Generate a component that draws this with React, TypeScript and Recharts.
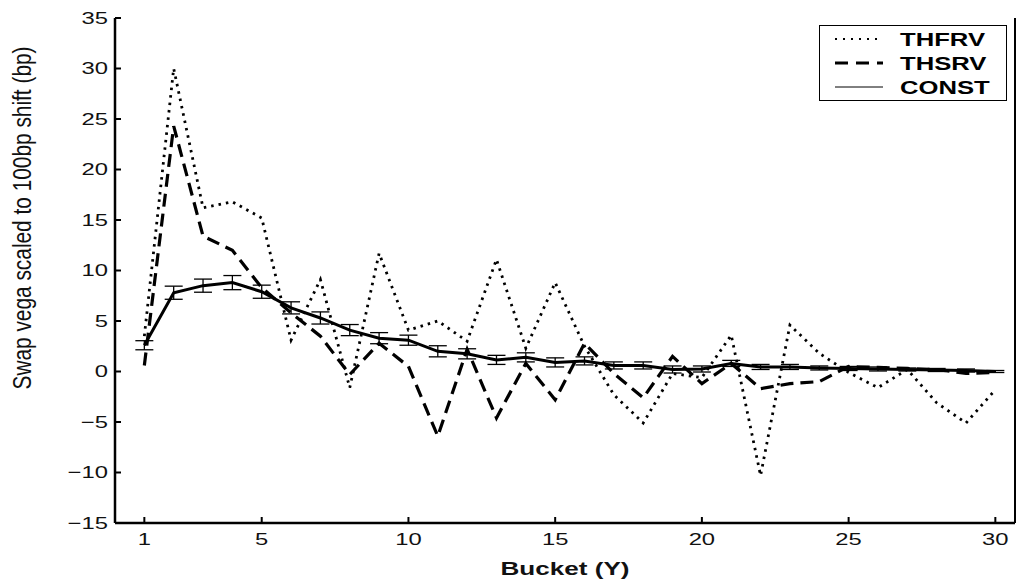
import React from "react";
import {
  LineChart,
  Line,
  XAxis,
  YAxis,
  ErrorBar,
  Legend,
  Label,
} from "recharts";

// buckets (years) and vega values
const buckets = [
  1, 2, 3, 4, 5, 6, 7, 8, 9, 10, 11, 12, 13, 14, 15, 16, 17, 18, 19, 20, 21,
  22, 23, 24, 25, 26, 27, 28, 29, 30,
];
const thfrv = [
  3.5, 30.0, 16.2, 16.8, 15.2, 3.1, 9.1, -1.6, 11.7, 4.1, 5.0, 3.0, 11.1, 2.3,
  8.8, 2.5, -2.3, -5.1, -0.2, -0.6, 3.6, -10.3, 4.6, 1.8, -0.1, -1.6, 0.2,
  -3.1, -5.1, -1.8,
];
const thsrv = [
  0.6, 24.3, 13.4, 12.0, 8.3, 5.8, 3.5, -0.3, 2.8, 0.5, -6.4, 2.2, -4.6, 0.8,
  -2.8, 2.8, -0.2, -2.6, 1.5, -1.2, 0.8, -1.7, -1.2, -1.0, 0.5, 0.4, 0.3, 0.2,
  -0.2, -0.1,
];
const constVals = [
  2.6, 7.8, 8.5, 8.8, 7.9, 6.3, 5.3, 4.1, 3.3, 3.1, 2.0, 1.75, 1.15, 1.4, 0.9,
  1.05, 0.6, 0.6, 0.2, 0.25, 0.8, 0.45, 0.45, 0.35, 0.3, 0.25, 0.2, 0.15, 0.1,
  0.0,
];
const constErr = [
  0.45, 0.65, 0.65, 0.7, 0.65, 0.6, 0.6, 0.55, 0.55, 0.5, 0.55, 0.5, 0.45,
  0.45, 0.45, 0.4, 0.35, 0.35, 0.35, 0.3, 0.3, 0.25, 0.25, 0.2, 0.2, 0.2, 0.15,
  0.15, 0.15, 0.1,
];
const xTicks = [1, 5, 10, 15, 20, 25, 30];
const yTicks = [-15, -10, -5, 0, 5, 10, 15, 20, 25, 30, 35];

const data = buckets.map((b, i) => ({
  bucket: b,
  THFRV: thfrv[i],
  THSRV: thsrv[i],
  CONST: constVals[i],
  constErr: constErr[i],
}));

const FONT = "'Liberation Sans', Arial, Helvetica, sans-serif";
const SX = 1.4; // the original figure is stretched sideways

const fmt = (v: number) => (v < 0 ? `\u2212${-v}` : `${v}`);

function YTick(props: any) {
  const { x, y, payload } = props;
  return (
    <text
      x={x}
      y={y}
      dy="0.35em"
      textAnchor="end"
      fontSize={17}
      fontFamily={FONT}
      fill="#111"
      transform={`translate(${x} ${y}) scale(${SX} 1) translate(${-x} ${-y})`}
    >
      {fmt(payload.value)}
    </text>
  );
}

function XTick(props: any) {
  const { x, y, payload } = props;
  return (
    <text
      x={x}
      y={y}
      dy="0.71em"
      textAnchor="middle"
      fontSize={17}
      fontFamily={FONT}
      fill="#111"
      transform={`translate(${x} ${y}) scale(${SX} 1) translate(${-x} ${-y})`}
    >
      {fmt(payload.value)}
    </text>
  );
}

function LegendBox() {
  const rows = [
    { name: "THFRV", dash: "2 6", w: 2, y: 14 },
    { name: "THSRV", dash: "13 8", w: 3, y: 38 },
    { name: "CONST", dash: undefined, w: 1, y: 62 },
  ];
  return (
    <svg width={188} height={76} style={{ display: "block" }}>
      <rect x={0.5} y={0.5} width={187} height={75} fill="#fff" stroke="#000" strokeWidth={1} />
      {rows.map((r) => (
        <g key={r.name}>
          <line x1={16} x2={64} y1={r.y} y2={r.y} stroke="#000" strokeWidth={r.w} strokeDasharray={r.dash} />
          <text
            x={81}
            y={r.y}
            dy="0.36em"
            fontSize={19}
            fontWeight="bold"
            fontFamily={FONT}
            transform={`translate(81 ${r.y}) scale(1.35 1) translate(-81 ${-r.y})`}
          >
            {r.name}
          </text>
        </g>
      ))}
    </svg>
  );
}

export default function App() {
  return (
    <div style={{ position: "absolute", left: 0, top: 0, background: "#fff" }}>
      <LineChart
        width={1016}
        height={581}
        data={data}
        margin={{ top: 18, right: 0, left: 0, bottom: 0 }}
      >
        <XAxis
          dataKey="bucket"
          type="number"
          domain={[0, 30.67]}
          ticks={xTicks}
          allowDataOverflow
          height={58}
          axisLine={{ stroke: "#000", strokeWidth: 2.5 }}
          tickLine={{ stroke: "#000", strokeWidth: 2 }}
          tickSize={-6}
          tickMargin={16}
          tick={<XTick />}
        >
          <Label
            content={() => (
              <text
                x={565}
                y={575}
                textAnchor="middle"
                fontSize={18}
                fontWeight="bold"
                fontFamily={FONT}
                fill="#111"
                transform={`translate(565 575) scale(1.45 1) translate(-565 -575)`}
              >
                Bucket (Y)
              </text>
            )}
          />
        </XAxis>
        <XAxis
          xAxisId="top"
          orientation="top"
          type="number"
          domain={[0, 30.67]}
          ticks={xTicks}
          allowDataOverflow
          height={0}
          axisLine={{ stroke: "#000", strokeWidth: 2 }}
          tickLine={{ stroke: "#000", strokeWidth: 2 }}
          tickSize={-6}
          tick={false}
        />
        <YAxis
          type="number"
          domain={[-15, 35]}
          ticks={yTicks}
          allowDataOverflow
          width={115}
          axisLine={{ stroke: "#000", strokeWidth: 2.5 }}
          tickLine={{ stroke: "#000", strokeWidth: 2 }}
          tickSize={-6}
          tickMargin={13}
          tick={<YTick />}
        >
          <Label
            content={() => (
              <text
                textAnchor="middle"
                fontSize={18}
                fontFamily={FONT}
                fill="#111"
                textLength={343}
                lengthAdjust="spacingAndGlyphs"
                transform="translate(31 218) scale(1.4 1) rotate(-90)"
              >
                Swap vega scaled to 100bp shift (bp)
              </text>
            )}
          />
        </YAxis>
        <YAxis
          yAxisId="right"
          orientation="right"
          type="number"
          domain={[-15, 35]}
          ticks={yTicks}
          allowDataOverflow
          width={1}
          axisLine={{ stroke: "#000", strokeWidth: 2 }}
          tickLine={{ stroke: "#000", strokeWidth: 2 }}
          tickSize={-6}
          tick={false}
        />
        <Legend
          layout="horizontal"
          verticalAlign="middle"
          align="center"
          content={() => <LegendBox />}
          wrapperStyle={{ left: 819, top: 25, width: 188, height: 76 }}
        />
        <Line
          type="linear"
          dataKey="THFRV"
          stroke="#000"
          strokeWidth={2.8}
          strokeDasharray="2.5 5"
          dot={false}
          isAnimationActive={false}
        />
        <Line
          type="linear"
          dataKey="THSRV"
          stroke="#000"
          strokeWidth={3.2}
          strokeDasharray="13 7"
          dot={false}
          isAnimationActive={false}
        />
        <Line
          type="linear"
          dataKey="CONST"
          stroke="#000"
          strokeWidth={3}
          dot={false}
          isAnimationActive={false}
        >
          <ErrorBar dataKey="constErr" width={9} stroke="#000" strokeWidth={1.3} direction="y" />
        </Line>
      </LineChart>
    </div>
  );
}
